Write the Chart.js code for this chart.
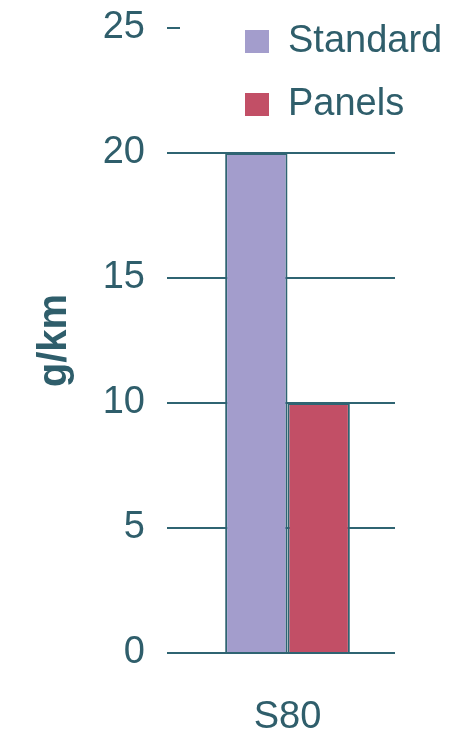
<!DOCTYPE html>
<html>
<head>
<meta charset="utf-8">
<title>g/km – S80</title>
<script src="https://cdn.jsdelivr.net/npm/chart.js@4/dist/chart.umd.min.js"></script>
<style>
  html, body { margin: 0; padding: 0; background: #ffffff; }
  canvas { display: block; }
</style>
</head>
<body>
<canvas id="chart" width="455" height="739"></canvas>
<script>
// Chart data
const categories = ['S80'];
const seriesNames = ['Standard', 'Panels'];
const standardValues = [20];
const panelValues = [10];
const yAxisTitle = 'g/km';
const yMin = 0;
const yMax = 25;
const yStep = 5;

// Styling
const inkColor = '#2f5e6b';
const lineColor = '#2f6472';
const standardColor = '#a39dcc';
const panelColor = '#c24f66';
const fontFamily = "'Liberation Sans', Arial, sans-serif";

// Places the legend in the upper right corner, over the plot area
const legendPlacement = {
  id: 'legendPlacement',
  afterLayout(chart) {
    const lg = chart.legend;
    if (!lg) return;
    lg.left = 220;
    lg.top = -2.5;
    lg.width = 235;
    lg.right = lg.left + lg.width;
    lg.bottom = lg.top + lg.height;
  }
};

new Chart(document.getElementById('chart'), {
  type: 'bar',
  data: {
    labels: categories,
    datasets: [
      {
        label: seriesNames[0],
        data: standardValues,
        backgroundColor: standardColor,
        borderColor: lineColor,
        borderWidth: 2
      },
      {
        label: seriesNames[1],
        data: panelValues,
        backgroundColor: panelColor,
        borderColor: lineColor,
        borderWidth: 2
      }
    ]
  },
  options: {
    responsive: false,
    animation: false,
    devicePixelRatio: 1,
    layout: { padding: { top: 28, right: 60, bottom: 0, left: 0 } },
    datasets: {
      bar: { categoryPercentage: 0.58, barPercentage: 1.0 }
    },
    scales: {
      x: {
        grid: { display: false, drawTicks: false },
        border: { display: false },
        ticks: {
          padding: 42,
          color: inkColor,
          font: { family: fontFamily, size: 38 }
        },
        afterFit(scale) { scale.height = 86; }
      },
      y: {
        min: yMin,
        max: yMax,
        border: { display: false },
        grid: {
          lineWidth: 2,
          tickLength: 13,
          color: (ctx) => (ctx.tick && ctx.tick.value === yMax ? 'rgba(0,0,0,0)' : lineColor),
          tickColor: lineColor
        },
        ticks: {
          stepSize: yStep,
          padding: 22,
          color: inkColor,
          font: { family: fontFamily, size: 38 }
        },
        title: {
          display: true,
          text: yAxisTitle,
          color: inkColor,
          padding: { top: 31, bottom: 0 },
          font: { family: fontFamily, size: 40, weight: 'bold', lineHeight: 1.2 }
        },
        afterFit(scale) {
          scale.width = 180;
          scale.paddingTop = 0;
          scale.paddingBottom = 0;
        }
      }
    },
    plugins: {
      tooltip: { enabled: false },
      legend: {
        position: 'chartArea',
        align: 'start',
        labels: {
          boxWidth: 24,
          boxHeight: 23,
          padding: 25,
          color: inkColor,
          font: { family: fontFamily, size: 38 },
          generateLabels(chart) {
            return Chart.defaults.plugins.legend.labels.generateLabels(chart)
              .map((item) => Object.assign(item, { lineWidth: 0 }));
          }
        }
      }
    }
  },
  plugins: [legendPlacement]
});
</script>
</body>
</html>
